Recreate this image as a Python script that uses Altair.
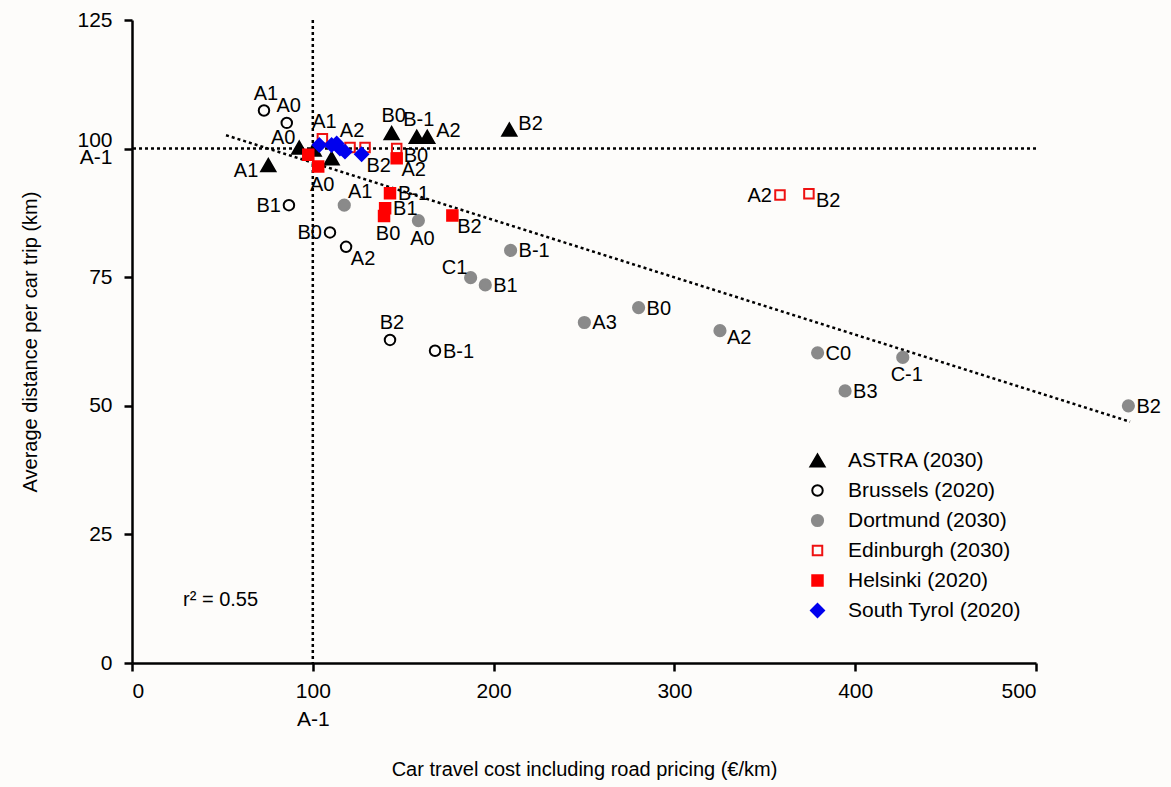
import altair as alt
import pandas as pd

# ---- data -------------------------------------------------------------
series_names = [
    "ASTRA (2030)",
    "Brussels (2020)",
    "Dortmund (2030)",
    "Edinburgh (2030)",
    "Helsinki (2020)",
    "South Tyrol (2020)",
]

astra_cost = [75.4, 92.5, 100.5, 110.4, 143.6, 157.5, 163.3, 208.7]
astra_dist = [96.8, 100.2, 99.8, 98.1, 103.0, 102.3, 102.3, 103.7]
astra_label = ["A1", "A0", "", "", "B0", "B-1", "A2", "B2"]

brussels_cost = [73.0, 85.6, 86.8, 109.5, 118.4, 142.7, 167.6]
brussels_dist = [107.4, 105.0, 89.0, 83.7, 80.9, 62.8, 60.7]
brussels_label = ["A1", "A0", "B1", "B0", "A2", "B2", "B-1"]

dortmund_cost = [117.4, 158.4, 209.4, 187.3, 195.4, 250.2, 280.2, 325.2, 379.2, 394.4, 426.3, 551.1]
dortmund_dist = [89.0, 86.0, 80.2, 74.9, 73.5, 66.2, 69.1, 64.6, 60.3, 52.9, 59.4, 50.0]
dortmund_label = ["A1", "A0", "B-1", "C1", "B1", "A3", "B0", "A2", "C0", "B3", "C-1", "B2"]

edinburgh_cost = [105.3, 120.6, 128.9, 146.4, 358.4, 374.4]
edinburgh_dist = [101.9, 100.2, 100.2, 100.0, 91.0, 91.2]
edinburgh_label = ["A1", "A2", "", "B0", "A2", "B2"]

helsinki_cost = [97.5, 103.0, 146.4, 142.7, 140.0, 139.4, 177.2]
helsinki_dist = [98.8, 96.5, 98.1, 91.3, 88.4, 86.9, 87.0]
helsinki_label = ["", "A0", "A2", "B-1", "B1", "B0", "B2"]

tyrol_cost = [103.6, 110.4, 113.2, 115.0, 117.8, 127.0]
tyrol_dist = [100.7, 100.7, 101.0, 100.0, 99.4, 98.9]
tyrol_label = ["", "", "", "", "", "B2"]

# fitted trend line (end points) and reference scenario A-1
trend_cost = [52, 552]
trend_dist = [102.6, 46.9]
reference_cost = 100
reference_dist = 100
r_squared = "0.55"

# ---- styling ----------------------------------------------------------
FONT = "Liberation Sans"
fill_colors = ["#000000", "transparent", "#8a8a8a", "transparent", "#ff0000", "#0000ee"]
stroke_colors = ["#000000", "#000000", "#8a8a8a", "#ee1111", "#ff0000", "#0000ee"]
shapes = ["triangle-up", "circle", "circle", "square", "square", "diamond"]
sizes = [200, 110, 125, 90, 110, 170]

# where each point label sits relative to its marker: (dx, dy, align)
PLACES = {
    "r": (8, 1, "left"),
    "ru": (9, -6, "left"),
    "rd": (7, 7, "left"),
    "l": (-8, 1, "right"),
    "ld": (-10, 6, "right"),
    "a": (2, -17, "center"),
    "b": (4, 18, "center"),
    "ar": (16, -13, "center"),
    "br": (17, 12, "center"),
    "al": (-16, -10, "center"),
}
label_side = {
    "ASTRA (2030)": ["ld", "al", "r", "r", "a", "a", "ru", "ru"],
    "Brussels (2020)": ["a", "a", "l", "l", "br", "a", "r"],
    "Dortmund (2030)": ["ar", "b", "r", "al", "r", "r", "r", "rd", "r", "r", "b", "r"],
    "Edinburgh (2030)": ["a", "a", "r", "rd", "l", "rd"],
    "Helsinki (2020)": ["r", "b", "br", "r", "r", "b", "br"],
    "South Tyrol (2020)": ["r", "r", "r", "r", "r", "br"],
}

# ---- tables -----------------------------------------------------------
groups = [
    (astra_cost, astra_dist, astra_label),
    (brussels_cost, brussels_dist, brussels_label),
    (dortmund_cost, dortmund_dist, dortmund_label),
    (edinburgh_cost, edinburgh_dist, edinburgh_label),
    (helsinki_cost, helsinki_dist, helsinki_label),
    (tyrol_cost, tyrol_dist, tyrol_label),
]
rows = []
for name, (xs, ys, labs) in zip(series_names, groups):
    for i, (x, y, lab) in enumerate(zip(xs, ys, labs)):
        rows.append({"series": name, "cost": x, "dist": y, "label": lab,
                     "side": label_side[name][i]})
points = pd.DataFrame(rows)
trend = pd.DataFrame({"cost": trend_cost, "dist": trend_dist})

x_scale = alt.Scale(domain=[0, 500], nice=False, zero=True)
y_scale = alt.Scale(domain=[0, 125], nice=False, zero=True)

x_axis = alt.Axis(
    title="Car travel cost including road pricing (€/km)",
    values=[0, 100, 200, 300, 400, 500],
    labelExpr="datum.value == 100 ? ['100', 'A-1'] : datum.label",
    labelLineHeight=28, labelPadding=9, titlePadding=30,
)
y_axis = alt.Axis(
    title="Average distance per car trip (km)",
    values=[0, 25, 50, 75, 100, 125],
    labelExpr="datum.value == 100 ? ['100', 'A-1'] : datum.label",
    labelLineHeight=17,
    labelOffset={"condition": {"test": "datum.value == 100", "value": -8}, "value": 0},
    labelPadding=12, titlePadding=36,
)

base = alt.Chart(points)

dotted = [3, 3]
v_ref = alt.Chart(pd.DataFrame({"cost": [reference_cost]})).mark_rule(
    color="black", strokeWidth=2.5, strokeDash=dotted
).encode(x=alt.X("cost:Q", scale=x_scale, axis=x_axis))
h_ref = alt.Chart(pd.DataFrame({"dist": [reference_dist]})).mark_rule(
    color="black", strokeWidth=2.5, strokeDash=dotted
).encode(y=alt.Y("dist:Q", scale=y_scale, axis=y_axis))

trend_line = alt.Chart(trend).mark_line(
    color="black", strokeWidth=2.5, strokeDash=dotted
).encode(
    x=alt.X("cost:Q", scale=x_scale, axis=x_axis),
    y=alt.Y("dist:Q", scale=y_scale, axis=y_axis),
)

marks = base.mark_point(strokeWidth=2, opacity=1).encode(
    x=alt.X("cost:Q", scale=x_scale, axis=x_axis),
    y=alt.Y("dist:Q", scale=y_scale, axis=y_axis),
    shape=alt.Shape("series:N", scale=alt.Scale(domain=series_names, range=shapes),
                    legend=alt.Legend(title=None)),
    fill=alt.Fill("series:N", scale=alt.Scale(domain=series_names, range=fill_colors),
                  legend=alt.Legend(title=None)),
    stroke=alt.Stroke("series:N", scale=alt.Scale(domain=series_names, range=stroke_colors),
                      legend=alt.Legend(title=None)),
    size=alt.Size("series:N",
                  scale=alt.Scale(type="ordinal", domain=series_names, range=sizes),
                  legend=alt.Legend(title=None)),
)

label_layers = []
for code, (dx, dy, align) in PLACES.items():
    label_layers.append(
        base.transform_filter(
            (alt.datum.side == code) & (alt.datum.label != "")
        ).mark_text(
            font=FONT, fontSize=20, color="black", dx=dx, dy=dy,
            align=align, baseline="middle",
        ).encode(
            x=alt.X("cost:Q", scale=x_scale, axis=x_axis),
            y=alt.Y("dist:Q", scale=y_scale, axis=y_axis),
            text="label:N",
        )
    )

r2_text = alt.Chart(pd.DataFrame({"t": ["r² = " + r_squared]})).mark_text(
    font=FONT, fontSize=20, color="black", align="center", baseline="middle"
).encode(
    x=alt.datum(49, scale=x_scale),
    y=alt.datum(12.2, scale=y_scale),
    text="t:N",
)

chart = alt.layer(
    v_ref, h_ref, trend_line, marks, *label_layers, r2_text
).properties(
    width=904,
    height=643,
    background="#fdfcfa",
    padding={"left": 132, "top": 20, "right": 135, "bottom": 124},
    autosize=alt.AutoSizeParams(type="none"),
).configure_view(
    stroke=None
).configure_axis(
    grid=False,
    domainColor="black", domainWidth=2.5,
    tickColor="black", tickWidth=2.5, tickSize=8,
    labelFont=FONT, labelFontSize=21, labelColor="black",
    titleFont=FONT, titleFontSize=20, titleFontWeight="normal", titleColor="black",
).configure_legend(
    orient="none", legendX=675, legendY=430,
    labelFont=FONT, labelFontSize=21, labelColor="black", labelLimit=400,
    labelOffset=20, rowPadding=8, symbolStrokeWidth=2,
)

chart.save("out.html", embed_options={"renderer": "svg", "actions": False})
